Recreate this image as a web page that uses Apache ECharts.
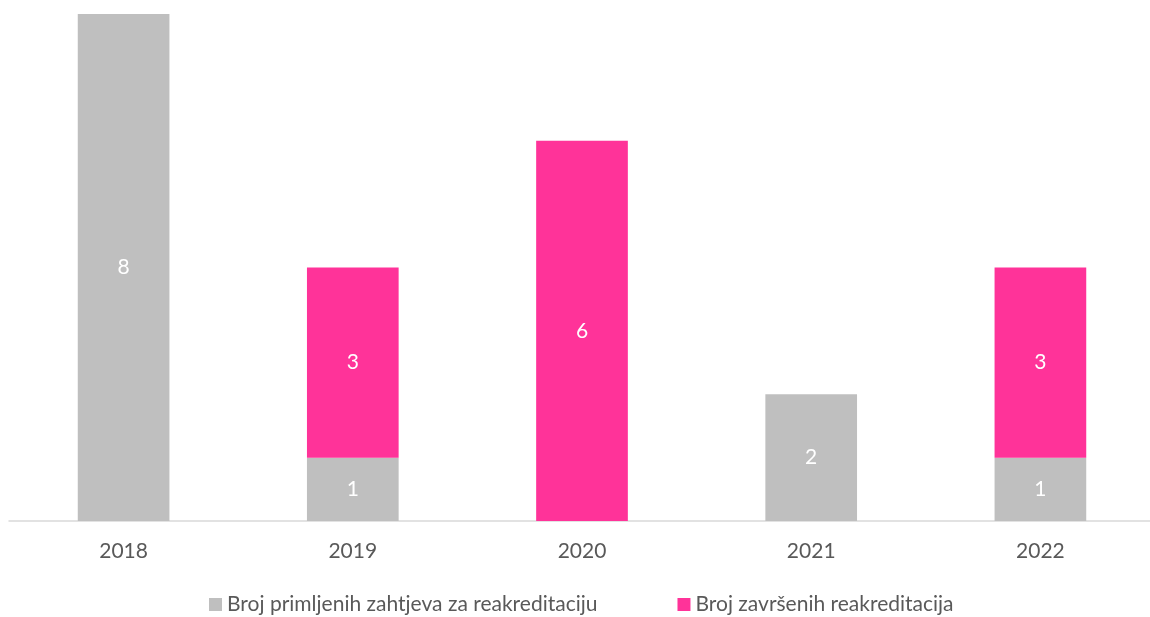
<!DOCTYPE html>
<html>
<head>
<meta charset="utf-8">
<script src="https://cdn.jsdelivr.net/npm/echarts@6/dist/echarts.min.js"></script>
<style>
html, body { margin: 0; padding: 0; background: #fff; overflow: hidden; }
#chart { width: 1158px; height: 617px; }
</style>
</head>
<body>
<div id="chart"></div>
<script>
const years = ["2018", "2019", "2020", "2021", "2022"];
const primljeni = [8, 1, 0, 2, 1];
const zavrseni = [0, 3, 6, 0, 3];
const seriesNames = ["Broj primljenih zahtjeva za reakreditaciju", "Broj završenih reakreditacija"];
const colors = ["#bfbfbf", "#ff3399"];

const font = "Lato, 'Open Sans', sans-serif";
const myChart = echarts.init(document.getElementById("chart"));

const makeSeries = (name, data, color) => ({
  name: name,
  type: "bar",
  stack: "total",
  barWidth: "40%",
  itemStyle: { color: color },
  label: {
    show: true,
    position: "inside",
    color: "#ffffff",
    fontSize: 21,
    fontFamily: font,
    formatter: (p) => (p.value ? p.value : "")
  },
  data: data
});

const option = {
  animation: false,
  grid: { left: 9, top: 14, right: 3, bottom: 96, containLabel: false },
  legend: {
    top: 589,
    left: 204,
    itemWidth: 13,
    itemHeight: 13,
    itemGap: 80,
    icon: "rect",
    textStyle: { color: "#595959", fontSize: 21, fontFamily: font },
    data: seriesNames
  },
  xAxis: {
    type: "category",
    data: years,
    axisLine: { lineStyle: { color: "#d9d9d9", width: 1.5 } },
    axisTick: { show: false },
    axisLabel: { color: "#595959", fontSize: 21, fontFamily: font, margin: 20 }
  },
  yAxis: {
    type: "value",
    min: 0,
    max: 8,
    show: false,
    splitLine: { show: false }
  },
  series: [
    makeSeries(seriesNames[0], primljeni, colors[0]),
    makeSeries(seriesNames[1], zavrseni, colors[1])
  ]
};
myChart.setOption(option);
</script>
</body>
</html>
